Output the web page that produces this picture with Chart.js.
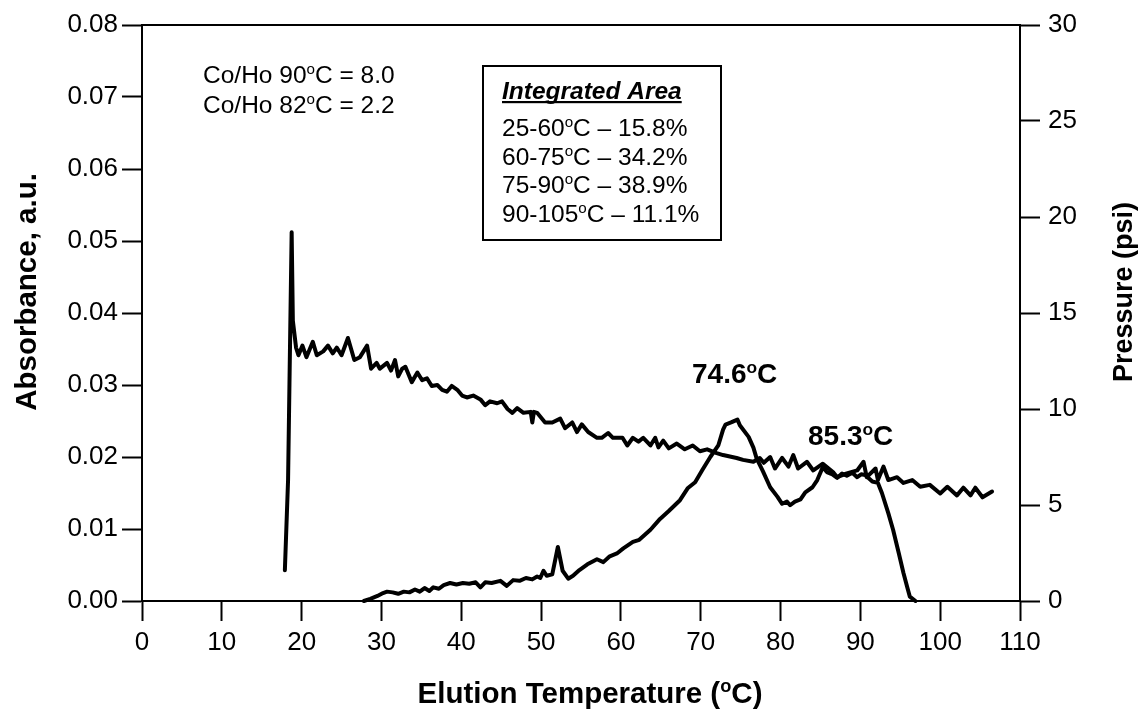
<!DOCTYPE html>
<html><head><meta charset="utf-8">
<script src="https://cdn.jsdelivr.net/npm/chart.js@4.4.1/dist/chart.umd.min.js"></script>
<style>html,body{margin:0;padding:0;background:#fff;}</style>
</head><body>
<canvas id="c" width="1141" height="713"></canvas>
<script>
// ---- data ----
const xTickLabels = ['0','10','20','30','40','50','60','70','80','90','100','110'];
const absTickLabels = ['0.00','0.01','0.02','0.03','0.04','0.05','0.06','0.07','0.08'];
const presTickLabels = ['0','5','10','15','20','25','30'];

// Pressure trace (psi, right axis)
const presT = [17.9,18.3,18.75,18.9,19.3,19.6,20.1,20.6,21.4,21.9,22.7,23.3,23.9,24.4,25.0,25.8,26.6,27.3,28.2,28.7,29.4,29.8,30.7,31.2,31.7,32.1,32.6,33.0,33.4,33.8,34.5,35.1,35.7,36.3,37.0,37.6,38.2,38.8,39.5,40.1,40.7,41.5,42.4,43.0,43.6,44.5,45.1,45.8,46.4,47.0,47.8,48.7,48.9,49.1,49.5,50.5,51.4,52.4,53.0,53.9,54.5,55.1,55.9,57.0,57.6,58.4,59.0,60.2,60.8,61.5,62.2,62.8,63.7,64.3,64.7,65.3,66.0,67.0,68.0,69.0,69.9,70.8,72.0,72.8,74.5,75.3,76.6,77.4,77.9,78.7,79.3,80.2,81.0,81.6,82.2,83.3,84.1,85.3,86.6,87.1,88.3,89.6,90.4,90.8,91.9,92.2,92.9,93.5,94.6,95.4,96.5,97.5,98.7,100.0,100.9,102.1,102.9,103.8,104.4,105.3,106.5];
const presV = [1.6,6.3,19.2,14.6,13.2,12.8,13.3,12.7,13.5,12.8,13.0,13.3,12.9,13.2,12.8,13.7,12.55,12.7,13.3,12.1,12.4,12.1,12.4,12.0,12.55,11.7,12.1,12.2,11.8,11.4,11.9,11.5,11.6,11.2,11.25,11.0,10.9,11.2,11.0,10.7,10.6,10.7,10.5,10.2,10.4,10.3,10.4,10.0,9.8,10.05,9.8,9.85,9.3,9.85,9.8,9.3,9.3,9.5,9.0,9.3,8.8,9.2,8.8,8.5,8.5,8.75,8.5,8.5,8.1,8.5,8.3,8.5,8.1,8.5,8.0,8.35,7.95,8.2,7.9,8.1,7.8,7.9,7.7,7.6,7.45,7.35,7.25,7.45,7.2,7.5,6.9,7.45,7.0,7.6,6.9,7.25,6.8,7.15,6.7,6.45,6.65,6.8,7.25,6.45,6.9,6.3,7.0,6.3,6.45,6.15,6.3,5.95,6.05,5.6,5.95,5.5,5.9,5.5,5.9,5.4,5.7];

// Absorbance trace (a.u., left axis)
const absT = [27.8,28.6,29.5,30.2,30.7,31.4,32.1,32.8,33.5,34.2,34.8,35.4,36.0,36.5,37.2,37.8,38.6,39.4,40.2,41.0,41.8,42.4,43.0,43.8,44.9,45.7,46.5,47.3,48.1,48.9,49.5,49.9,50.3,50.7,51.4,52.1,52.7,53.4,54.0,54.8,55.8,57.0,57.8,58.6,59.5,60.3,61.5,62.3,63.0,63.7,64.9,66.0,67.4,68.4,69.3,70.2,71.2,72.2,72.8,73.1,73.8,74.6,74.9,76.0,76.6,77.0,77.8,78.7,79.6,80.2,80.8,81.2,81.8,82.5,83.1,84.0,84.6,85.3,85.8,86.5,87.1,87.7,88.3,89.0,89.6,90.1,90.6,91.5,92.2,92.7,93.5,94.1,94.8,95.4,95.9,96.2,96.9];
const absV = [0,0.0003,0.0007,0.0011,0.0013,0.0012,0.0010,0.0013,0.0012,0.0016,0.0013,0.0018,0.0014,0.0019,0.0017,0.0022,0.0025,0.0023,0.0025,0.0024,0.0026,0.0019,0.0026,0.0025,0.0028,0.0021,0.0029,0.0028,0.0032,0.0030,0.0034,0.0032,0.0042,0.0035,0.0037,0.0075,0.0042,0.0031,0.0035,0.0043,0.0051,0.0058,0.0054,0.0062,0.0066,0.0073,0.0082,0.0085,0.0092,0.0099,0.0114,0.0125,0.0140,0.0157,0.0165,0.0182,0.0200,0.0216,0.0238,0.0245,0.0248,0.0252,0.0244,0.0228,0.0213,0.0198,0.0180,0.0158,0.0145,0.0135,0.0138,0.0133,0.0138,0.0141,0.0151,0.0158,0.0168,0.0186,0.0179,0.0176,0.0171,0.0177,0.0174,0.0178,0.0172,0.0176,0.0175,0.0166,0.0164,0.0150,0.0122,0.0099,0.0067,0.0039,0.0018,0.0006,0];

// ---- text ----
const FONT = '"Liberation Sans", Arial, Helvetica, sans-serif';
function fstr(size, bold, italic){ return (italic?'italic ':'')+(bold?'bold ':'')+size+'px '+FONT; }
function richWidth(ctx, parts, size, bold, italic){
  let w=0; for(const p of parts){ ctx.font=fstr(p[1]?size*0.62:size,bold,italic); w+=ctx.measureText(p[0]).width; } return w;
}
function drawRich(ctx, parts, x, y, size, bold, italic, align){
  const w = richWidth(ctx, parts, size, bold, italic);
  let cx = align==='center' ? x-w/2 : x;
  ctx.textAlign='left'; ctx.textBaseline='alphabetic'; ctx.fillStyle='#000';
  for(const p of parts){
    const s = p[1]?size*0.62:size;
    ctx.font=fstr(s,bold,italic);
    ctx.fillText(p[0], cx, p[1]? y-size*0.36 : y);
    cx += ctx.measureText(p[0]).width;
  }
  return w;
}
const deg = (a,b)=>[[a],['o',true],[b]];

const annot = {
  id:'annot',
  afterDraw(chart){
    const ctx=chart.ctx, ca=chart.chartArea;
    ctx.save();
    // top frame line
    ctx.strokeStyle='#000'; ctx.lineWidth=2;
    ctx.beginPath(); ctx.moveTo(ca.left-1, ca.top); ctx.lineTo(ca.right+1, ca.top); ctx.stroke();
    // Co/Ho text
    drawRich(ctx, deg('Co/Ho 90','C = 8.0'), 203, 83, 24.5, false, false);
    drawRich(ctx, deg('Co/Ho 82','C = 2.2'), 203, 113, 24.5, false, false);
    // box
    ctx.lineWidth=2; ctx.strokeRect(483, 66, 238, 174);
    const w = drawRich(ctx, [['Integrated Area']], 502, 99, 24.5, true, true);
    ctx.fillRect(502, 101, w, 2.2);
    drawRich(ctx, deg('25-60','C \u2013 15.8%'), 502, 136, 24.5, false, false);
    drawRich(ctx, deg('60-75','C \u2013 34.2%'), 502, 164.5, 24.5, false, false);
    drawRich(ctx, deg('75-90','C \u2013 38.9%'), 502, 193, 24.5, false, false);
    drawRich(ctx, deg('90-105','C \u2013 11.1%'), 502, 221.5, 24.5, false, false);
    // peak labels
    drawRich(ctx, deg('74.6','C'), 692, 383, 28, true, false);
    drawRich(ctx, deg('85.3','C'), 808, 445, 28, true, false);
    // axis titles
    drawRich(ctx, deg('Elution Temperature (',"C)"), 590, 703, 29.5, true, false, 'center');
    ctx.save(); ctx.translate(36, 292); ctx.rotate(-Math.PI/2);
    drawRich(ctx, [['Absorbance, a.u.']], 0, 0, 29.5, true, false, 'center');
    ctx.restore();
    ctx.save(); ctx.translate(1132, 292); ctx.rotate(-Math.PI/2);
    drawRich(ctx, [['Pressure (psi)']], 0, 0, 27, true, false, 'center');
    ctx.restore();
    ctx.restore();
  }
};

Chart.defaults.color='#000';
Chart.defaults.font.family=FONT;

const tickFont = {size:26, family:FONT};
const gridOpt = {display:true, drawOnChartArea:false, drawTicks:true, tickLength:20, tickWidth:2, tickColor:'#000', color:'#000'};
const borderOpt = {display:true, color:'#000', width:2};

new Chart(document.getElementById('c'), {
  type:'scatter',
  data:{datasets:[
    {label:'Pressure', data:presT.map((t,i)=>({x:t,y:presV[i]})), yAxisID:'y2', showLine:true, borderColor:'#000', borderWidth:4, pointRadius:0, tension:0, borderJoinStyle:'round', borderCapStyle:'round', clip:false},
    {label:'Absorbance', data:absT.map((t,i)=>({x:t,y:absV[i]})), yAxisID:'y', showLine:true, borderColor:'#000', borderWidth:4, pointRadius:0, tension:0, borderJoinStyle:'round', borderCapStyle:'round', clip:false}
  ]},
  options:{
    responsive:false, animation:false, devicePixelRatio:1,
    layout:{padding:{top:25,left:0,right:0,bottom:0}},
    plugins:{legend:{display:false}, tooltip:{enabled:false}},
    scales:{
      x:{type:'linear', position:'bottom', min:0, max:110,
        ticks:{stepSize:10, font:tickFont, padding:6, maxRotation:0, autoSkip:false,
          callback:(v,i)=>xTickLabels[i]},
        grid:gridOpt, border:borderOpt,
        afterFit(s){ s.height=112; }},
      y:{type:'linear', position:'left', min:0, max:0.08,
        ticks:{stepSize:0.01, font:tickFont, padding:4, autoSkip:false,
          callback:(v,i)=>absTickLabels[i]},
        grid:gridOpt, border:borderOpt,
        afterFit(s){ s.width=142; }},
      y2:{type:'linear', position:'right', min:0, max:30,
        ticks:{stepSize:5, font:tickFont, padding:8, autoSkip:false,
          callback:(v,i)=>presTickLabels[i]},
        grid:gridOpt, border:borderOpt,
        afterFit(s){ s.width=121; }}
    }
  },
  plugins:[annot]
});
</script>
</body></html>
